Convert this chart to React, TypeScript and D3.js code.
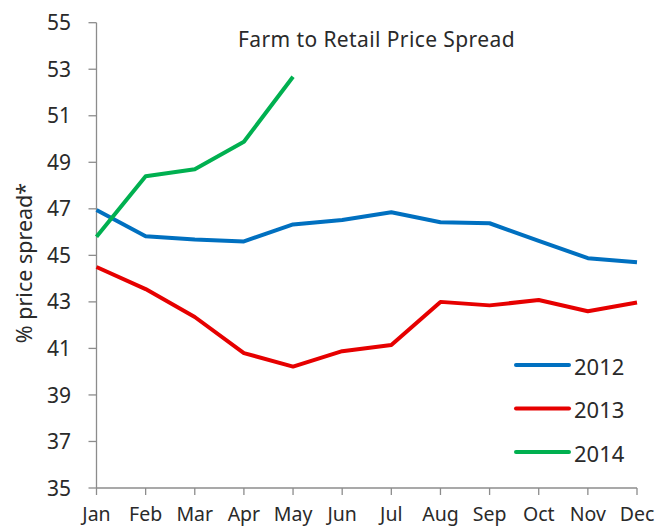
import React from "react";
import * as d3 from "d3";

const months = ["Jan", "Feb", "Mar", "Apr", "May", "Jun", "Jul", "Aug", "Sep", "Oct", "Nov", "Dec"];
const s2012 = [46.95, 45.82, 45.68, 45.6, 46.33, 46.52, 46.85, 46.42, 46.38, 45.62, 44.88, 44.7];
const s2013 = [44.5, 43.55, 42.35, 40.8, 40.22, 40.88, 41.15, 43.0, 42.85, 43.08, 42.6, 42.97];
const s2014 = [45.8, 48.4, 48.7, 49.88, 52.68];
const yTicks = [35, 37, 39, 41, 43, 45, 47, 49, 51, 53, 55];
const seriesNames = ["2012", "2013", "2014"];
const seriesColors = ["#0070C0", "#E60000", "#00B050"];

export default function App() {
  const W = 670, H = 529;
  const left = 96.5, right = 637, top = 22.7, bottom = 488;
  const x = d3.scalePoint<string>().domain(months).range([left, right]);
  const y = d3.scaleLinear().domain([35, 55]).range([bottom, top]);
  const line = d3.line<number>().x((_, i) => x(months[i]) as number).y((d) => y(d));
  const data = [s2012, s2013, s2014];
  const font = "'Noto Sans', 'Open Sans', sans-serif";
  const axisColor = "#8c8c8c";
  const textColor = "#2a2a2a";
  return (
    <svg width={W} height={H} style={{ position: "absolute", left: 0, top: 0, background: "#fff" }} fontFamily={font}>
      <text x={376.5} y={47} textAnchor="middle" fontSize={21} letterSpacing={0.4} fill={textColor}>Farm to Retail Price Spread</text>
      {/* y axis */}
      <line x1={left} x2={left} y1={top} y2={bottom} stroke={axisColor} strokeWidth={1.3} />
      {yTicks.map((t) => (
        <g key={t}>
          <line x1={left - 8} x2={left} y1={y(t)} y2={y(t)} stroke={axisColor} strokeWidth={1.3} />
          <text x={71} y={y(t)} dy="0.36em" textAnchor="end" fontSize={21} fill={textColor}>{t}</text>
        </g>
      ))}
      {/* x axis */}
      <line x1={left} x2={right} y1={bottom} y2={bottom} stroke={axisColor} strokeWidth={1.3} />
      {months.map((m) => (
        <g key={m}>
          <line x1={x(m)} x2={x(m)} y1={bottom} y2={bottom + 7} stroke={axisColor} strokeWidth={1.3} />
          <text x={x(m)} y={521} textAnchor="middle" fontSize={19.5} fill={textColor}>{m}</text>
        </g>
      ))}
      <text transform={`translate(32,263) rotate(-90)`} textAnchor="middle" fontSize={21.5} fill={textColor}>% price spread*</text>
      {data.map((s, i) => (
        <path key={i} d={line(s) || ""} fill="none" stroke={seriesColors[i]} strokeWidth={4} strokeLinejoin="round" />
      ))}
      {seriesNames.map((n, i) => {
        const ly = 365 + i * 43.5;
        return (
          <g key={n}>
            <line x1={516} x2={569} y1={ly} y2={ly} stroke={seriesColors[i]} strokeWidth={4} strokeLinecap="round" />
            <text x={574} y={ly + 9.5} fontSize={22} fill={textColor}>{n}</text>
          </g>
        );
      })}
    </svg>
  );
}
